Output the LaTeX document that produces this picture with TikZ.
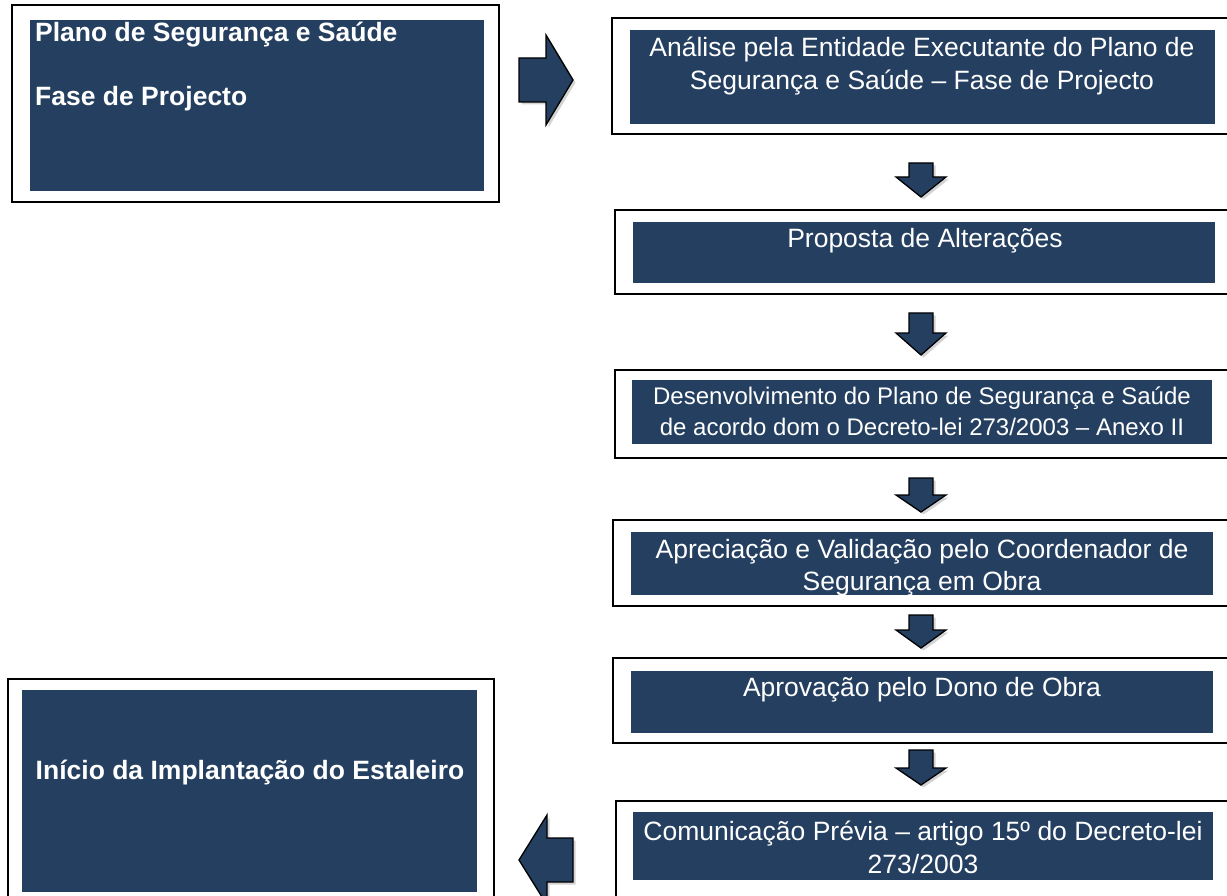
\documentclass[tikz,border=0pt]{standalone}
\usepackage{fontspec}
\setmainfont{Liberation Sans}
\usetikzlibrary{shadows}
\definecolor{navy}{HTML}{243F60}
\tikzset{
  outerbox/.style={draw=black, line width=1.6pt, fill=white, inner sep=0pt, rectangle},
  fillbox/.style={fill=navy, draw=none, inner sep=0pt, rectangle},
  boxtext/.style={text=white, inner sep=0pt, anchor=base, align=center, font=\fontsize{26.5}{33}\selectfont},
  blockarr/.style={fill=navy, draw=black, line width=1.3pt, line join=miter,
    drop shadow={shadow xshift=2.5pt, shadow yshift=-2.5pt, opacity=0.35, fill=gray}}
}
\newcommand\flowdown[4]{% name, top y, total height, shaft height
  \coordinate (#1) at (921,#2);
  \draw[blockarr] (#1) ++(-12,0) -- ++(24,0) -- ++(0,#4) -- ++(13,0) -- ++(-25,#3-#4) -- ++(-25,-#3+#4) -- ++(13,0) -- cycle;
}
\begin{document}
\begin{tikzpicture}[x=1pt,y=-1pt]
\useasboundingbox (0,0) rectangle (1227,896);
\clip (0,0) rectangle (1227,896);

% Box A
\node (A) [outerbox, minimum width=487, minimum height=197] at (255.5,103.5) {};
\node (Ai) [fillbox, minimum width=454, minimum height=171] at (257,105.5) {};
\node (At) [boxtext, anchor=base west, align=left, font=\bfseries\fontsize{26.5}{32}\selectfont] at (35,105.5) {Plano de Segurança e Saúde\\[32pt]Fase de Projecto};

% Box B
\node (B) [outerbox, minimum width=628, minimum height=116] at (926,76) {};
\node (Bi) [fillbox, minimum width=585, minimum height=94] at (922.5,77) {};
\node (Bt) [boxtext] at (922,89.5) {Análise pela Entidade Executante do Plano de\\Segurança e Saúde – Fase de Projecto};

% Box C
\node (C) [outerbox, minimum width=625, minimum height=84] at (927.5,252) {};
\node (Ci) [fillbox, minimum width=582, minimum height=61] at (924,252.5) {};
\node (Ct) [boxtext] at (925,247.5) {Proposta de Alterações};

% Box D
\node (D) [outerbox, minimum width=625, minimum height=88] at (927.5,414) {};
\node (Di) [fillbox, minimum width=580, minimum height=64] at (922,412) {};
\node (Dt) [boxtext, font=\fontsize{24}{31}\selectfont] at (922,435.5) {Desenvolvimento do Plano de Segurança e Saúde\\de acordo dom o Decreto-lei 273/2003 – Anexo II};

% Box E
\node (E) [outerbox, minimum width=627, minimum height=86] at (926.5,563) {};
\node (Ei) [fillbox, minimum width=582, minimum height=63] at (922,563.5) {};
\node (Et) [boxtext, font=\fontsize{26.5}{32}\selectfont] at (922,590.5) {Apreciação e Validação pelo Coordenador de\\Segurança em Obra};

% Box F
\node (F) [outerbox, minimum width=627, minimum height=85] at (926.5,700.5) {};
\node (Fi) [fillbox, minimum width=582, minimum height=62] at (922,702) {};
\node (Ft) [boxtext] at (922,696.5) {Aprovação pelo Dono de Obra};

% Box G
\node (G) [outerbox, minimum width=624, minimum height=119] at (928,860.5) {};
\node (Gi) [fillbox, minimum width=580, minimum height=68] at (923,846) {};
\node (Gt) [boxtext] at (923,873.5) {Comunicação Prévia – artigo 15º do Decreto-lei\\273/2003};

% Box H
\node (H) [outerbox, minimum width=486, minimum height=241] at (251,799.5) {};
\node (Hi) [fillbox, minimum width=455, minimum height=202] at (249.5,791) {};
\node (Ht) [boxtext, font=\bfseries\fontsize{26.5}{32}\selectfont] at (250,779.5) {Início da Implantação do Estaleiro};

% Right arrow A -> B
\coordinate (r1) at (519,58);
\draw[blockarr] (r1) -- ++(27,0) -- ++(0,-23) -- ++(27,45) -- ++(-27,45) -- ++(0,-23) -- ++(-27,0) -- cycle;

% Down arrows
\flowdown{d1}{163}{34}{14}
\flowdown{d2}{313}{42}{20}
\flowdown{d3}{478}{34}{17}
\flowdown{d4}{615}{33}{15}
\flowdown{d5}{750}{35}{18}

% Left arrow G -> H
\coordinate (l1) at (573,838);
\draw[blockarr] (l1) -- ++(-26,0) -- ++(0,-23) -- ++(-28,45) -- ++(28,45) -- ++(0,-23) -- ++(26,0) -- cycle;
\end{tikzpicture}
\end{document}
